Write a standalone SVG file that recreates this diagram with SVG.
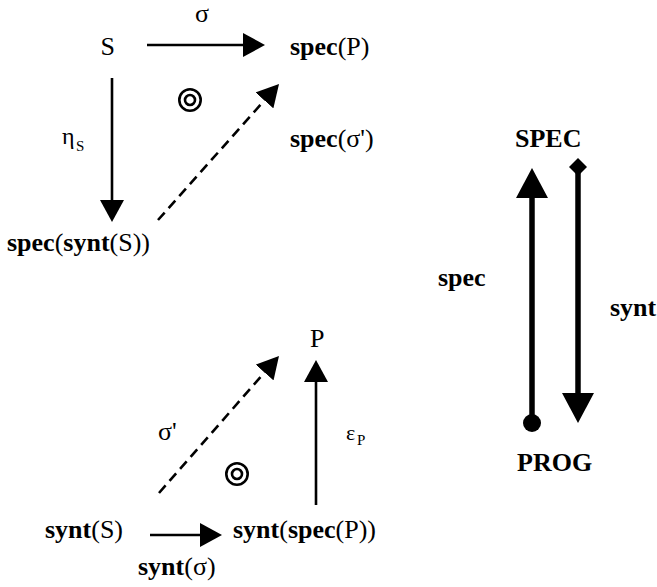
<svg xmlns="http://www.w3.org/2000/svg" width="657" height="587" viewBox="0 0 657 587">
<style>
  text { font-family: "Liberation Serif", "Times New Roman", serif; font-size: 26px; fill: #000; }
  .b { font-weight: bold; }
  .sub { font-size: 15px; }
  .ln { stroke: #000; stroke-width: 2.6; fill: none; }
  .dash { stroke: #000; stroke-width: 2.6; fill: none; stroke-dasharray: 10 6; }
  .thick { stroke: #000; stroke-width: 5.5; fill: none; }
  .ring { stroke: #000; stroke-width: 2.6; fill: none; }
</style>
<defs>
  <marker id="ah" markerUnits="userSpaceOnUse" markerWidth="22" markerHeight="24" viewBox="0 0 22 24" refX="0" refY="12" orient="auto">
    <path d="M0,0 L22,12 L0,24 Z" fill="#000"/>
  </marker>
  <marker id="ahBig" markerUnits="userSpaceOnUse" markerWidth="30" markerHeight="32" viewBox="0 0 30 32" refX="0" refY="16" orient="auto">
    <path d="M0,0 L30,16 L0,32 Z" fill="#000"/>
  </marker>
  <g id="bull">
    <circle r="10.7" class="ring"/>
    <circle r="5" class="ring"/>
  </g>
</defs>

<g id="connectors">
  <line class="ln" x1="147" y1="45" x2="243" y2="45" marker-end="url(#ah)"/>
  <line class="ln" x1="112" y1="78" x2="112" y2="200" marker-end="url(#ah)"/>
  <line class="dash" x1="158" y1="220" x2="264.4" y2="100.4" marker-end="url(#ah)"/>
  <line class="dash" x1="159" y1="493" x2="264.5" y2="372.5" marker-end="url(#ah)"/>
  <line class="ln" x1="316" y1="505" x2="316" y2="382" marker-end="url(#ah)"/>
  <line class="ln" x1="150" y1="535" x2="200" y2="535" marker-end="url(#ah)"/>
  <line class="thick" x1="532" y1="423" x2="532" y2="198" marker-end="url(#ahBig)"/>
  <circle cx="532" cy="423" r="9" fill="#000"/>
  <line class="thick" x1="578" y1="167" x2="578" y2="393" marker-end="url(#ahBig)"/>
  <path d="M578,158 L587,167 L578,176 L569,167 Z" fill="#000"/>
</g>

<g id="node-S"><text x="100.5" y="55">S</text></g>
<g id="node-specP"><text x="290" y="55"><tspan class="b">spec</tspan>(P)</text></g>
<g id="node-specsyntS"><text x="7" y="251"><tspan class="b">spec</tspan>(<tspan class="b">synt</tspan>(S))</text></g>
<g id="node-P"><text x="310" y="347">P</text></g>
<g id="node-syntS"><text x="45" y="538"><tspan class="b">synt</tspan>(S)</text></g>
<g id="node-syntspecP"><text x="233" y="538"><tspan class="b">synt</tspan>(<tspan class="b">spec</tspan>(P))</text></g>
<g id="node-SPEC"><text x="515" y="147" class="b">SPEC</text></g>
<g id="node-PROG"><text x="517" y="471" class="b">PROG</text></g>

<g id="labels">
  <text x="195" y="22">σ</text>
  <text x="62" y="144" style="font-size:24px">η</text><text x="76" y="151" class="sub">S</text>
  <text x="290" y="147"><tspan class="b">spec</tspan>(σ')</text>
  <text x="158" y="440">σ'</text>
  <text x="346" y="440" style="font-size:22px">ε</text><text x="357" y="445" class="sub">P</text>
  <text x="138" y="575"><tspan class="b">synt</tspan>(σ)</text>
  <text x="438" y="286" class="b">spec</text>
  <text x="610" y="316" class="b">synt</text>
  <use href="#bull" x="190" y="100"/>
  <use href="#bull" x="237" y="474"/>
</g>
</svg>
